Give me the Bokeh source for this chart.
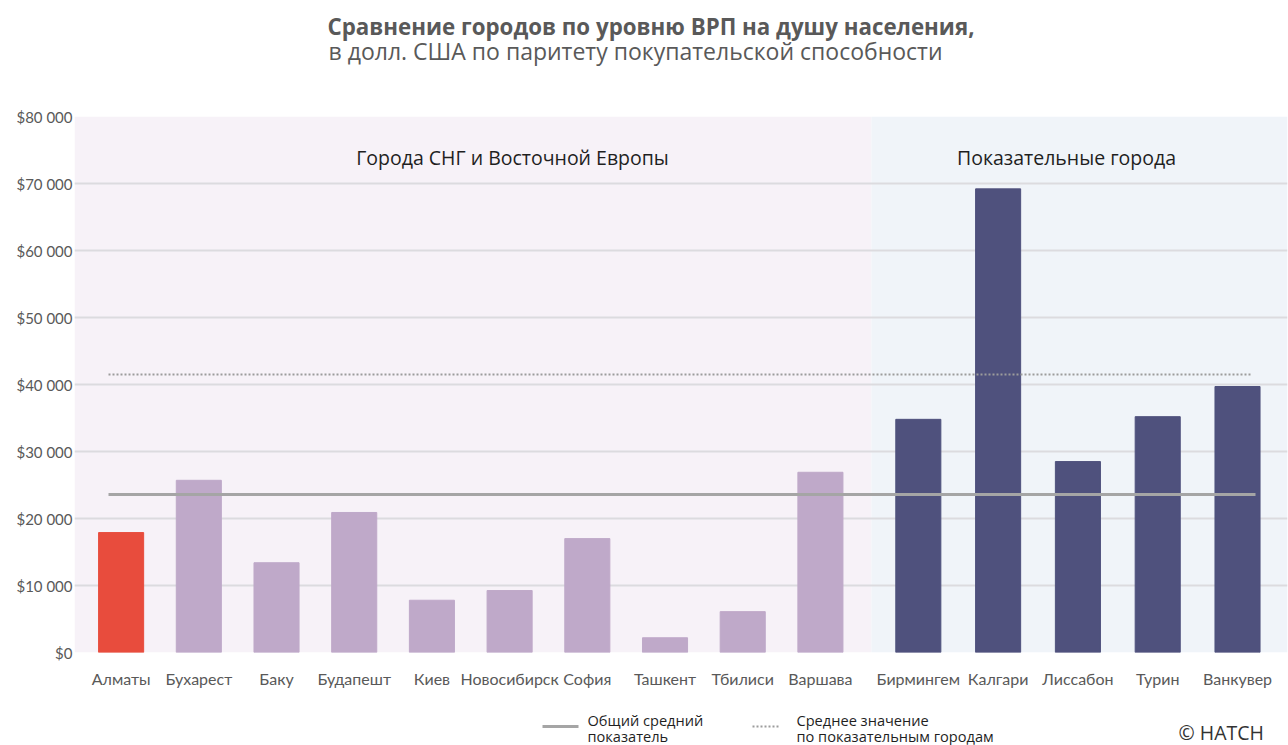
from bokeh.plotting import figure
from bokeh.layouts import column
from bokeh.models import Range1d, FixedTicker, Label, ColumnDataSource
from bokeh.core.properties import value
from bokeh.embed import file_html
from bokeh.resources import INLINE

# ---------------- data ----------------
cities = ["Алматы", "Бухарест", "Баку", "Будапешт", "Киев", "Новосибирск",
          "София", "Ташкент", "Тбилиси", "Варшава",
          "Бирмингем", "Калгари", "Лиссабон", "Турин", "Ванкувер"]
gdp = [17900, 25700, 13400, 20900, 7800, 9250, 17000, 2200, 6100, 26900,
       34800, 69200, 28500, 35200, 39700]
groups = ["focus"] + ["cis"] * 9 + ["bench"] * 5
overall_avg = 23600
bench_avg = 41500
y_ticks = [0, 10000, 20000, 30000, 40000, 50000, 60000, 70000, 80000]
y_tick_labels = ["$0", "$10 000", "$20 000", "$30 000", "$40 000",
                 "$50 000", "$60 000", "$70 000", "$80 000"]
title_text = "Сравнение городов по уровню ВРП на душу населения,"
subtitle_text = "в долл. США по паритету покупательской способности"
group_labels = ["Города СНГ и Восточной Европы", "Показательные города"]
legend_lines_1 = ["Общий средний", "показатель"]
legend_lines_2 = ["Среднее значение", "по показательным городам"]
credit = "© HATCH"

# ---------------- layout helpers (page pixels) ----------------
W = 1288
HEAD_H, MAIN_H, FOOT_H = 100, 600, 45
FL, FR, FT, FB = 74, 1287, 116, 652   # frame edges in page px
UNIT = 77.7                            # px per category step
X0 = -0.6
X1 = X0 + (FR - FL) / UNIT
YMAX = 80000

def px2x(px):
    return X0 + (px - FL) / UNIT

def py2y(py):
    return (FB - py) * YMAX / (FB - FT)

def blank(h, top):
    # frames in a column are aligned with the main chart's frame (FL..FR)
    f = figure(width=W, height=h, output_backend="svg", toolbar_location=None,
               x_range=Range1d(FL, FR), y_range=Range1d(top + h, top),
               min_border_left=FL, min_border_right=W - FR,
               min_border_top=0, min_border_bottom=0)
    f.axis.visible = False
    f.grid.visible = False
    f.outline_line_color = None
    return f

# ---------------- header ----------------
head = blank(HEAD_H, 0)
head.text(x=[327], y=[26], text=[title_text], text_font=value("Open Sans"),
          text_font_style="bold", text_font_size="22.3px", text_color="#595959",
          text_baseline="middle", text_align="left")
head.text(x=[328], y=[50], text=[subtitle_text], text_font=value("Open Sans"),
          text_font_size="23px", text_color="#595959",
          text_baseline="middle", text_align="left")

# ---------------- main chart ----------------
colors_map = {"focus": "#E84C3D", "cis": "#BFA9C9", "bench": "#4F517D"}
xpos = [i if i < 10 else 10.26 + (i - 10) * 1.027 for i in range(len(cities))]
src = ColumnDataSource(dict(x=xpos, top=gdp, color=[colors_map[g] for g in groups]))

p = figure(width=W, height=MAIN_H, output_backend="svg", toolbar_location=None,
           x_range=Range1d(X0, X1), y_range=Range1d(0, YMAX),
           min_border_left=FL, min_border_right=W - FR,
           min_border_top=FT - HEAD_H, min_border_bottom=HEAD_H + MAIN_H - FB)
p.outline_line_color = None
p.background_fill_color = "white"
p.border_fill_color = "white"

split = px2x(871)
p.quad(left=[X0, split], right=[split, X1], bottom=[0, 0], top=[YMAX, YMAX],
       fill_color=["#F7F2F8", "#F0F4F9"], line_color=None, level="image")

p.xgrid.visible = False
p.ygrid.ticker = FixedTicker(ticks=y_ticks)
p.ygrid.grid_line_color = "#DCDBDF"
p.ygrid.grid_line_width = 2

p.vbar(x="x", top="top", width=0.58, bottom=0, color="color", source=src)

solid = p.segment(x0=[px2x(108)], x1=[px2x(1255)], y0=[overall_avg], y1=[overall_avg],
                  line_color="#A5A5A5", line_width=3)
dotted = p.segment(x0=[px2x(108)], x1=[px2x(1250)], y0=[bench_avg], y1=[bench_avg],
                   line_color="#9C9C9C", line_width=2, line_dash="2 2")

for ax in (p.xaxis, p.yaxis):
    ax.axis_line_color = None
    ax.major_tick_line_color = None
    ax.minor_tick_line_color = None
    ax.major_tick_out = 0
    ax.major_tick_in = 0
    ax.minor_tick_out = 0
    ax.minor_tick_in = 0
    ax.major_label_text_font = "Lato"
    ax.major_label_text_color = "#595959"

p.yaxis.ticker = FixedTicker(ticks=y_ticks)
p.yaxis.major_label_overrides = {t: l for t, l in zip(y_ticks, y_tick_labels)}
p.yaxis.major_label_standoff = 2
p.yaxis.major_label_text_font_size = "15px"

p.xaxis.ticker = FixedTicker(ticks=xpos)
p.xaxis.major_label_overrides = {x: c for x, c in zip(xpos, cities)}
p.xaxis.major_label_standoff = 16
p.xaxis.major_label_text_font_size = "16px"

p.add_layout(Label(x=px2x(512), y=py2y(157), text=group_labels[0], text_font="Open Sans",
                   text_font_size="19.5px", text_color="#1F1F1F",
                   text_baseline="middle", text_align="center"))
p.add_layout(Label(x=px2x(1066), y=py2y(157), text=group_labels[1], text_font="Open Sans",
                   text_font_size="19.5px", text_color="#1F1F1F",
                   text_baseline="middle", text_align="center"))

# ---------------- footer / legend ----------------
foot = blank(FOOT_H, HEAD_H + MAIN_H)
foot.segment(x0=[542], x1=[578], y0=[726], y1=[726], line_color="#A5A5A5", line_width=3)
foot.segment(x0=[752], x1=[778], y0=[726], y1=[726], line_color="#9C9C9C", line_width=2,
             line_dash="2 2")
foot.text(x=[587, 587], y=[719, 735], text=legend_lines_1, text_font=value("Open Sans"),
          text_font_size="14.6px", text_color="#1F1F1F", text_baseline="middle",
          text_align="left")
foot.text(x=[796, 796], y=[719, 735], text=legend_lines_2, text_font=value("Open Sans"),
          text_font_size="14.6px", text_color="#1F1F1F", text_baseline="middle",
          text_align="left")
foot.text(x=[1178], y=[732], text=[credit], text_font=value("Open Sans"),
          text_font_size="19.5px", text_color="#333333", text_baseline="middle",
          text_align="left")

layout = column(head, p, foot, spacing=0)
open("out.html", "w").write(file_html(layout, INLINE))
